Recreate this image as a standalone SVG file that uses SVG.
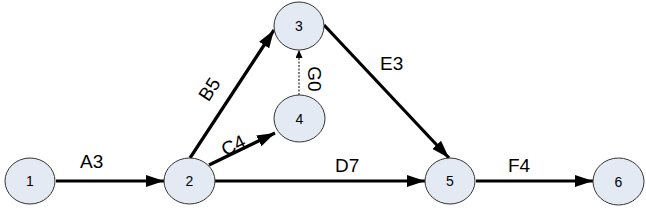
<svg xmlns="http://www.w3.org/2000/svg" width="646" height="209" viewBox="0 0 646 209">
<style>
.node ellipse{fill:#e4eaf4;stroke:#333;stroke-width:1}
.node text{font-family:"Liberation Sans",Arial,sans-serif;font-size:14px;fill:#000;text-anchor:middle}
.edge{stroke:#000;stroke-width:3.2;fill:none;marker-end:url(#ah)}
.dash{stroke:#000;stroke-width:1;fill:none;stroke-dasharray:2,1.5;marker-end:url(#ahs)}
.lbl{font-family:"Liberation Sans",Arial,sans-serif;font-size:19px;fill:#000}
</style>
<defs>
<marker id="ah" viewBox="0 0 18 12" refX="18" refY="6" markerWidth="18" markerHeight="12" markerUnits="userSpaceOnUse" orient="auto">
<path d="M0,0 L18,6 L0,12 Z" fill="#000"/>
</marker>
<marker id="ahs" viewBox="0 0 8 7" refX="8" refY="3.5" markerWidth="8" markerHeight="7" markerUnits="userSpaceOnUse" orient="auto">
<path d="M0,0 L8,3.5 L0,7 Z" fill="#000"/>
</marker>
</defs>
<g id="connectors">
<line class="edge" x1="56" y1="181" x2="164" y2="181"/>
<line class="edge" x1="190" y1="158" x2="274" y2="30"/>
<line class="edge" x1="209" y1="165" x2="275" y2="133"/>
<line class="edge" x1="215" y1="181" x2="425" y2="181"/>
<line class="edge" x1="324" y1="25" x2="449" y2="158"/>
<line class="edge" x1="476" y1="181" x2="593" y2="181"/>
<line class="dash" x1="299" y1="95" x2="299" y2="50"/>
<text class="lbl" x="80" y="168">A3</text>
<text class="lbl" transform="translate(209,89) rotate(-57)" text-anchor="middle" dy="7">B5</text>
<text class="lbl" transform="translate(233,145) rotate(-26)" text-anchor="middle" dy="7">C4</text>
<text class="lbl" x="335" y="172">D7</text>
<text class="lbl" x="380" y="70">E3</text>
<text class="lbl" transform="translate(315,79) rotate(90)" text-anchor="middle" dy="7">G0</text>
<text class="lbl" x="508" y="172">F4</text>
</g>
<g id="n1" class="node"><ellipse cx="30" cy="181" rx="25" ry="23"/><text x="30" y="186">1</text></g>
<g id="n2" class="node"><ellipse cx="189.5" cy="181" rx="25.5" ry="23"/><text x="189.5" y="186">2</text></g>
<g id="n3" class="node"><ellipse cx="299" cy="26" rx="25" ry="24"/><text x="299" y="31">3</text></g>
<g id="n4" class="node"><ellipse cx="299.5" cy="118.5" rx="25.5" ry="23.5"/><text x="299.5" y="123.5">4</text></g>
<g id="n5" class="node"><ellipse cx="450" cy="181" rx="25" ry="23"/><text x="450" y="186">5</text></g>
<g id="n6" class="node"><ellipse cx="618.5" cy="181.5" rx="25.5" ry="23.5"/><text x="618.5" y="186.5">6</text></g>
</svg>
